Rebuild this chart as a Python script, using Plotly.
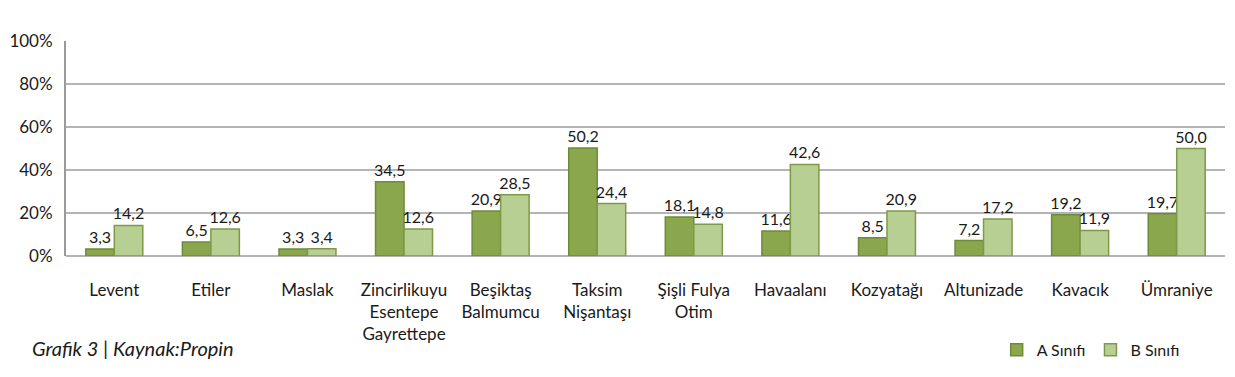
import plotly.graph_objects as go

categories = ["Levent", "Etiler", "Maslak", "Zincirlikuyu<br>Esentepe<br>Gayrettepe",
              "Beşiktaş<br>Balmumcu", "Taksim<br>Nişantaşı", "Şişli Fulya<br>Otim",
              "Havaalanı", "Kozyatağı", "Altunizade", "Kavacık", "Ümraniye"]
a_values = [3.3, 6.5, 3.3, 34.5, 20.9, 50.2, 18.1, 11.6, 8.5, 7.2, 19.2, 19.7]
b_values = [14.2, 12.6, 3.4, 12.6, 28.5, 24.4, 14.8, 42.6, 20.9, 17.2, 11.9, 50.0]
y_ticks = [0, 20, 40, 60, 80, 100]
y_tick_labels = ["0%", "20%", "40%", "60%", "80%", "100%"]

def fmt(v):
    return f"{v:.1f}".replace(".", ",")

FONT = "Lato, 'Open Sans', sans-serif"

fig = go.Figure()
fig.add_trace(go.Bar(x=categories, y=a_values, name="A Sınıfı",
                     marker=dict(color="#8AA74E", line=dict(color="#6E8B3A", width=1.5)),
                     text=[fmt(v) for v in a_values], textposition="outside",
                     constraintext="none",
                     textfont=dict(size=16, color="#1a1a1a", family=FONT), cliponaxis=False))
fig.add_trace(go.Bar(x=categories, y=b_values, name="B Sınıfı",
                     marker=dict(color="#B8CF94", line=dict(color="#7E9A48", width=1.5)),
                     text=[fmt(v) for v in b_values], textposition="outside",
                     constraintext="none",
                     textfont=dict(size=16, color="#1a1a1a", family=FONT), cliponaxis=False))

# page body has an 8px margin: figure is offset by 8px right and down
fig.update_layout(
    width=1227, height=369,
    margin=dict(l=58, r=10, t=33, b=121, autoexpand=False),
    paper_bgcolor="white", plot_bgcolor="white",
    barmode="group", bargap=0.41, bargroupgap=0,
    font=dict(family=FONT, color="#1a1a1a", size=17),
    showlegend=True,
    legend=dict(orientation="h", x=0.803, xanchor="left", y=-0.437, yanchor="middle",
                font=dict(size=16, family=FONT), traceorder="normal",
                itemwidth=30, tracegroupgap=0),
    yaxis=dict(range=[0, 100], tickvals=y_ticks, ticktext=y_tick_labels, showgrid=True,
               gridcolor="#B4B4B4", gridwidth=2, zeroline=True, zerolinecolor="#B4B4B4",
               zerolinewidth=2, showline=True, linecolor="#9a9a9a", linewidth=2,
               tickfont=dict(size=17, family=FONT), ticks="outside", ticklen=8,
               tickcolor="rgba(0,0,0,0)", automargin=False),
    xaxis=dict(showgrid=False, showline=False, tickfont=dict(size=17, family=FONT),
               ticklabelstandoff=22, tickangle=0, automargin=False),
)
fig.update_traces(textangle=0)
fig.add_annotation(text="<i>Grafik 3 | Kaynak:Propin</i>", xref="paper", yref="paper",
                   x=-0.031, y=-0.428, xanchor="left", yanchor="middle", showarrow=False,
                   font=dict(size=20, family=FONT, color="#1a1a1a"))

fig.write_html("out.html")
